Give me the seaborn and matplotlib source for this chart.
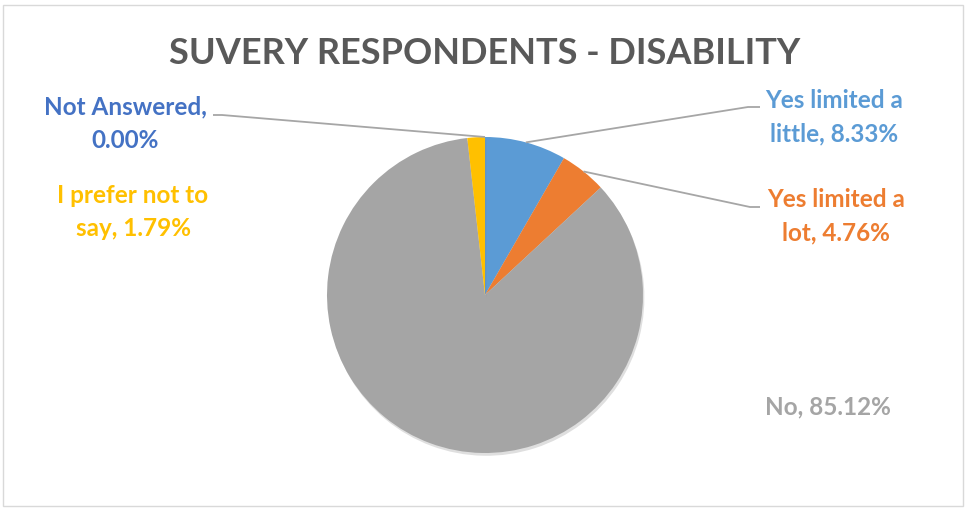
import textwrap
import numpy as np
import matplotlib
matplotlib.use("Agg")
import matplotlib.pyplot as plt
import seaborn as sns
from matplotlib import patheffects as pe
from matplotlib.patches import Rectangle

# Survey data: share of respondents per answer (percent)
categories = ["Yes limited a little", "Yes limited a lot", "No",
              "I prefer not to say", "Not Answered"]
percentages = [8.33, 4.76, 85.12, 1.79, 0.00]
title = "SUVERY RESPONDENTS - DISABILITY"

sns.set_theme(style="white")
palette = ["#5B9BD5", "#ED7D31", "#A5A5A5", "#FFC000", "#4472C4"]
plt.rcParams["font.family"] = ["Lato", "DejaVu Sans"]

W, H = 966, 508
fig = plt.figure(figsize=(W / 100, H / 100), dpi=100)
ax = fig.add_axes([0, 0, 1, 1])
ax.set_xlim(0, W)
ax.set_ylim(0, H)
ax.set_axis_off()


def py(y):
    """Convert a top-down pixel row into axes data y."""
    return H - y


# Chart frame
ax.add_patch(Rectangle((3, py(506)), 960, 501, fill=False,
                       edgecolor="#D9D9D9", linewidth=1.0))

# Pie
cx, cy, r = 485, py(295), 158
wedges, _ = ax.pie(percentages, colors=palette, startangle=90,
                   counterclock=False, center=(cx, cy), radius=r,
                   wedgeprops=dict(linewidth=0))
for w in wedges:
    w.set_path_effects([pe.SimplePatchShadow(offset=(1, -2), shadow_rgbFace="#808080",
                                             alpha=0.25), pe.Normal()])
ax.set_xlim(0, W)
ax.set_ylim(0, H)
ax.set_aspect("equal")

ax.text(485, py(54), title, ha="center", va="center", fontsize=26,
        fontweight="bold", color="#595959")

# Data label placement (pixel centres) and leader-line anchors
label_pos = {
    "Yes limited a little": (834, 117),
    "Yes limited a lot": (836, 216),
    "No": (828, 407),
    "I prefer not to say": (133, 212),
    "Not Answered": (125, 124),
}
leader_anchor = {
    "Yes limited a little": [(760, 107), (748, 107)],
    "Yes limited a lot": [(760, 207), (750, 207)],
    "Not Answered": [(213, 115), (222, 115)],
}

for cat, pct, col, w in zip(categories, percentages, palette, wedges):
    text = textwrap.fill(f"{cat}, {pct:.2f}%", width=15)
    lx, ly = label_pos[cat]
    ax.text(lx, py(ly), text, ha="center", va="center", fontsize=17.5,
            fontweight="bold", color=col, linespacing=1.55)
    if cat in leader_anchor:
        mid = np.deg2rad((w.theta1 + w.theta2) / 2)
        ex, ey = cx + r * np.cos(mid), cy + r * np.sin(mid)
        pts = leader_anchor[cat]
        xs = [p[0] for p in pts] + [ex]
        ys = [py(p[1]) for p in pts] + [ey]
        ax.plot(xs, ys, color="#A6A6A6", linewidth=1.3, solid_capstyle="butt")

fig.savefig("out.png", dpi=100)
